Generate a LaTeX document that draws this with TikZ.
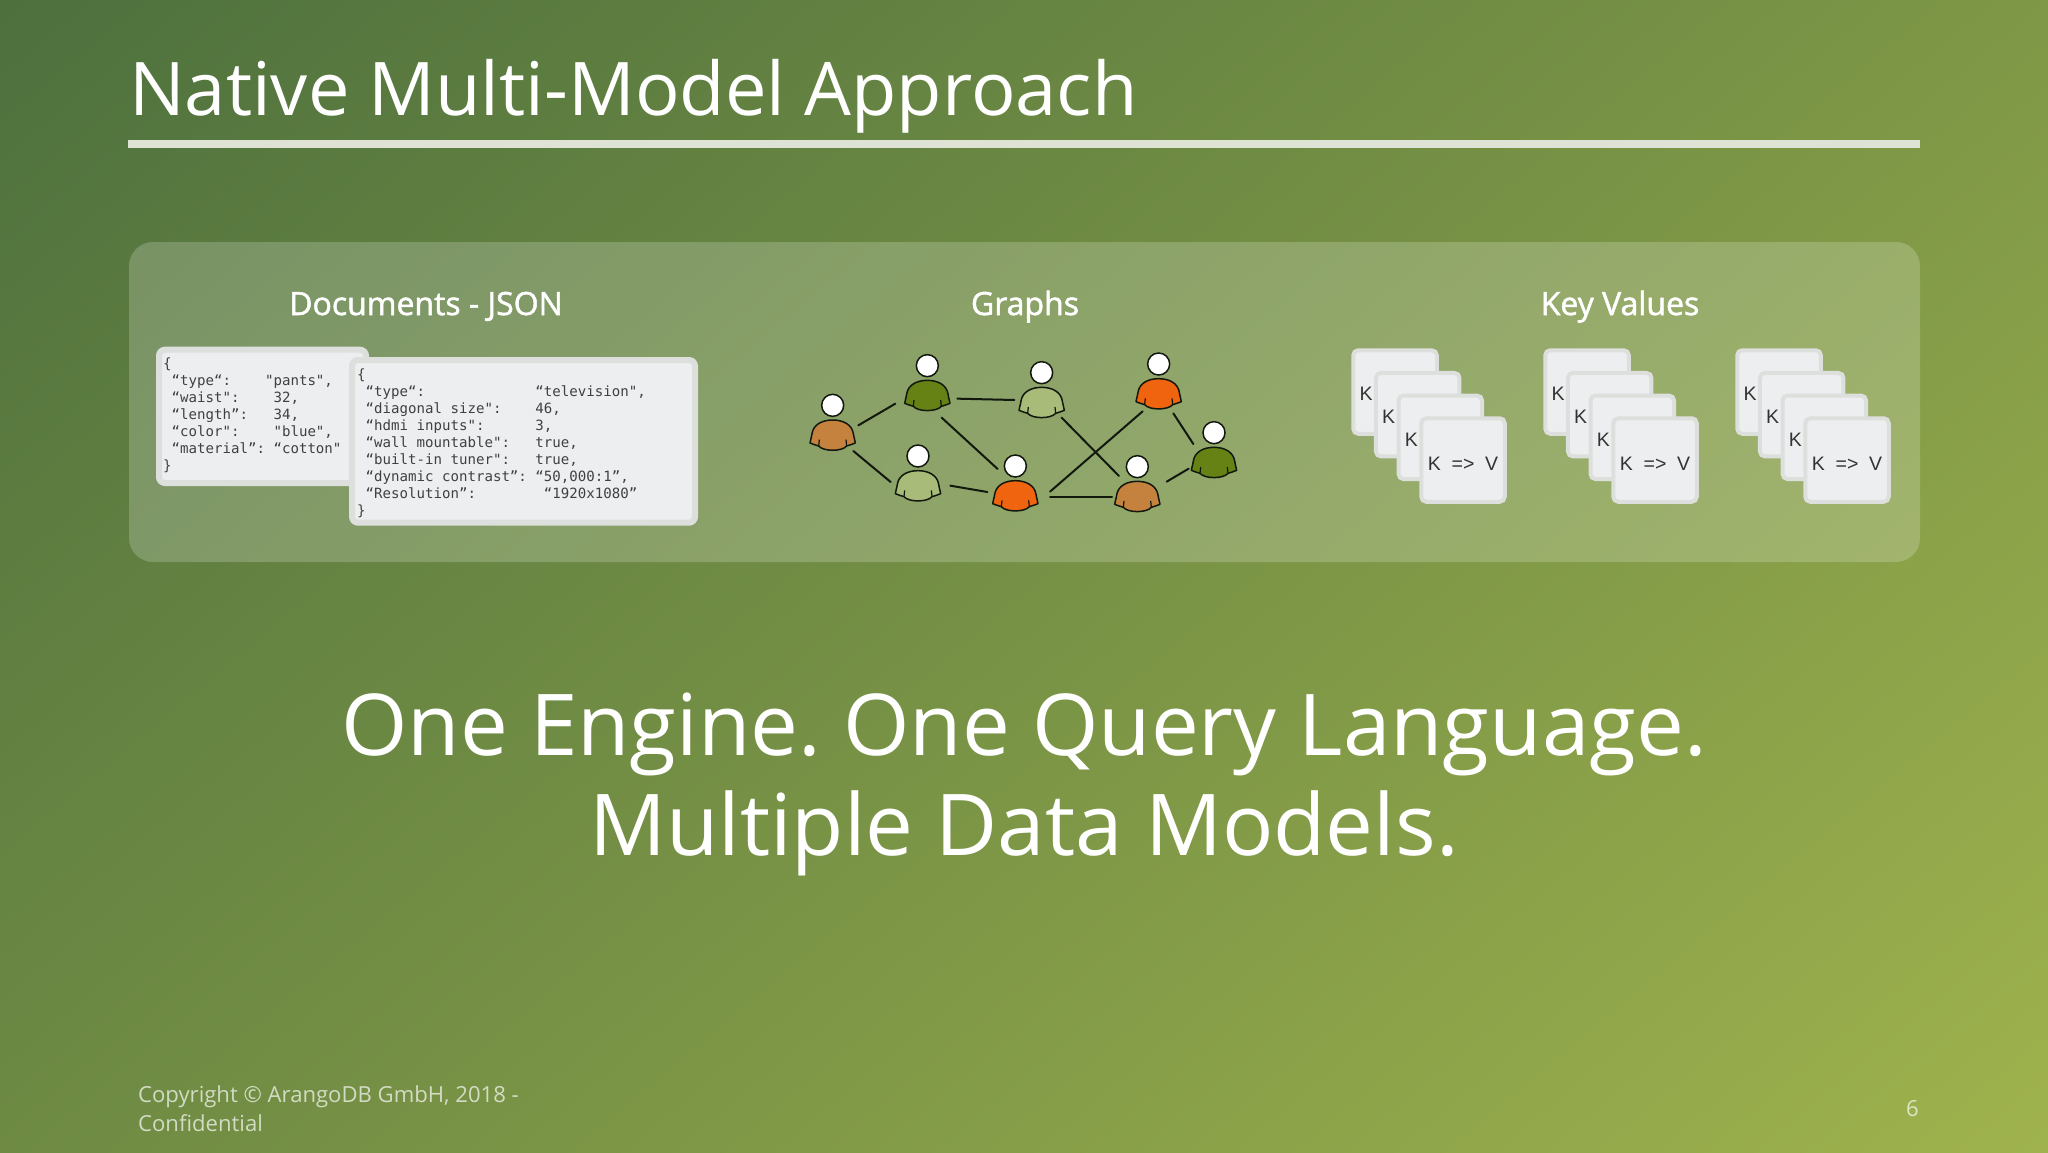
\documentclass[tikz,border=0pt]{standalone}
\usepackage{fontspec}
\setmainfont{Open Sans}
\newfontfamily\jsonfont{DejaVu Sans Mono}
\newfontfamily\kvfont{Liberation Sans}
\newfontfamily\headfont[FakeBold=1.6]{Open Sans}
\frenchspacing
\definecolor{cardline}{HTML}{DDDFDD}
\definecolor{cardfill}{HTML}{ECEEF0}
\definecolor{rulecol}{HTML}{DFE3D6}
\definecolor{pbrown}{HTML}{C4823E}
\definecolor{pdark}{HTML}{668215}
\definecolor{plight}{HTML}{A9BB78}
\definecolor{porange}{HTML}{F0640F}
\definecolor{inkline}{HTML}{12180E}
\definecolor{bgA}{RGB}{60,98,58}
\definecolor{bgB}{RGB}{124,148,69}
\definecolor{bgC}{RGB}{176,192,80}
\tikzset{
  x=1pt,y=-1pt,
  title/.style={anchor=base west,inner sep=0,text=white,font=\fontsize{74}{80}\selectfont},
  rulebar/.style={fill=rulecol,draw=none},
  panel/.style={fill=white,fill opacity=.2,draw=none,rounded corners=24},
  heading/.style={anchor=base,inner sep=0,text=white,font=\fontsize{32}{36}\headfont},
  big/.style={anchor=base,inner sep=0,text=white,font=\fontsize{85.3}{100}\selectfont},
  foot/.style={anchor=base west,inner sep=0,text=white,text opacity=.68,font=\fontsize{22.1}{28}\selectfont},
  docbox/.style={fill=cardfill,draw=cardline,line width=6,rounded corners=6},
  json/.style={anchor=north west,inner sep=0,align=left,text=black!75,font=\fontsize{14.1}{17}\jsonfont},
  kvcard/.style={fill=cardfill,draw=cardline,line width=4,rounded corners=5,minimum width=83.5,minimum height=83.5,inner sep=0},
  kvtext/.style={inner sep=0,text=black!80,font=\fontsize{19.5}{22}\kvfont},
  head/.style={circle,fill=white,draw=inkline,line width=1.5,minimum size=22,inner sep=0},
  link/.style={draw=inkline,line width=2,line cap=round},
}
\newcommand{\person}[4]{% name, x, y, colour  (in zoom units)
  \begin{scope}[shift={(#2,#3)}]
    \path[fill=#4,draw=inkline,line width=1.5,line join=round]
      (0,44) .. controls (-32,44) and (-58,58) .. (-62,85)
      .. controls (-64,98) and (-67,105) .. (-68,113)
      .. controls (-60,117) and (-50,119) .. (-42,122)
      .. controls (-28,139) and (28,139) .. (42,122)
      .. controls (50,119) and (60,117) .. (68,113)
      .. controls (67,105) and (64,98) .. (62,85)
      .. controls (58,58) and (32,44) .. (0,44) -- cycle;
    \draw[draw=inkline,line width=1.2] (-40,103) -- (-42,122) (40,103) -- (42,122);
    \node[head] (#1) at (0,0) {};
  \end{scope}}
\newcommand{\kvstack}[2]{% prefix, x shift
  \begin{scope}[shift={(#2,0)}]
    \node[kvcard] (#1a) at (1395,392) {};
    \node[kvtext] (#1ak) at (1366,394) {K};
    \node[kvcard] (#1b) at (1417.7,414.7) {};
    \node[kvtext] (#1bk) at (1388.7,417) {K};
    \node[kvcard] (#1c) at (1440.3,437.3) {};
    \node[kvtext] (#1ck) at (1411.3,439.5) {K};
    \node[kvcard] (#1d) at (1463,460) {};
    \node[kvtext] (#1dk) at (1463,463.5) {K~~=>~~V};
  \end{scope}}
\begin{document}
\begin{tikzpicture}
\useasboundingbox (0,0) rectangle (2048,1152);
\begin{scope}
  \clip (0,0) rectangle (2048,1152);
  \shade[left color=bgA, middle color=bgB, right color=bgC, shading angle=40] (-1024,-576) rectangle (3072,1728);
\end{scope}
\node[title] (t) at (129,115.5) {Native Multi-Model Approach};
\fill[rulebar] (128,140) rectangle (1920,148);
\fill[panel] (129,242) rectangle (1920,562);
\node[heading] (h1) at (426,315) {Documents - JSON};
\node[heading] (h2) at (1025,315) {Graphs};
\node[heading] (h3) at (1620,315) {Key Values};

\draw[docbox] (159,349.7) rectangle (366,483);
\node[json] (j1) at (163,357.5) {\{\\
~“type“:~~~~"pants",\\
~“waist":~~~~32,\\
~“length”:~~~34,\\
~“color":~~~~"blue",\\
~“material”:~“cotton"\\
\}};
\draw[docbox] (352,360) rectangle (695,522.7);
\node[json] (j2) at (357,369) {\{\\
~“type“:~~~~~~~~~~~~~“television",\\
~“diagonal~size":~~~~46,\\
~“hdmi~inputs":~~~~~~3,\\
~“wall~mountable":~~~true,\\
~“built-in~tuner":~~~true,\\
~“dynamic~contrast”:~“50,000:1”,\\
~“Resolution”:~~~~~~~~“1920x1080”\\
\}};

\begin{scope}[shift={(790,340)},x=1/3,y=-1/3]
  \person{p1}{128}{196}{pbrown}
  \person{p2}{412}{77}{pdark}
  \person{p3}{755}{98}{plight}
  \person{p4}{1106}{72}{porange}
  \person{p5}{1272}{278}{pdark}
  \person{p6}{384}{348}{plight}
  \person{p7}{676}{378}{porange}
  \person{p8}{1042}{380}{pbrown}
  \coordinate (a1) at (205,256); \coordinate (b1) at (316,191);
  \coordinate (a2) at (502,176); \coordinate (b2) at (673,180);
  \coordinate (a3) at (455,233); \coordinate (b3) at (623,387);
  \coordinate (a4) at (815,233); \coordinate (b4) at (987,408);
  \coordinate (a5) at (780,455); \coordinate (b5) at (1058,214);
  \coordinate (a6) at (780,470); \coordinate (b6) at (966,470);
  \coordinate (a7) at (1150,220); \coordinate (b7) at (1210,312);
  \coordinate (a8) at (1130,425); \coordinate (b8) at (1196,386);
  \coordinate (a9) at (190,333); \coordinate (b9) at (302,426);
  \coordinate (a10) at (481,437); \coordinate (b10) at (592,456);
  \foreach \i in {1,...,10} {\draw[link] (a\i) -- (b\i);}
\end{scope}

\kvstack{s1}{0}
\kvstack{s2}{192}
\kvstack{s3}{384}

\node[big] (b1t) at (1024,755) {One Engine. One Query Language.};
\node[big] (b2t) at (1024,855) {Multiple Data Models.};
\node[foot] (f1) at (138,1102) {Copyright © ArangoDB GmbH, 2018 -};
\node[foot] (f2) at (138,1131) {Confidential};
\node[foot] (pn) at (1906,1116) {6};
\end{tikzpicture}
\end{document}
